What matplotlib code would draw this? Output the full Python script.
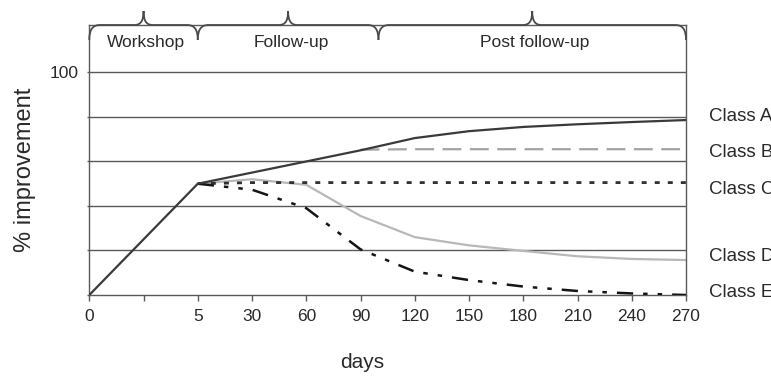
import matplotlib
matplotlib.use("Agg")
import matplotlib.pyplot as plt
import numpy as np
from matplotlib.path import Path
from matplotlib.patches import PathPatch
from matplotlib.transforms import blended_transform_factory

plt.rcParams['font.family'] = ['Liberation Sans', 'DejaVu Sans']

# ---- data ----
day_labels = ["0", "", "5", "30", "60", "90", "120", "150", "180", "210", "240", "270"]
x_pos = list(range(len(day_labels)))

class_a = [0, 25, 50, 55, 60, 65, 70.5, 73.6, 75.5, 76.7, 77.7, 78.6]
class_b_start = 5
class_b = [65.3, 65.5, 65.5, 65.5, 65.5, 65.5, 65.5]
class_c = [50, 50.5, 50.5, 50.5, 50.5, 50.5, 50.5, 50.5, 50.5, 50.5]
class_d = [50, 52, 49.5, 35.5, 26, 22.3, 19.8, 17.4, 16.2, 15.7]
class_e = [50, 47.3, 39, 20.5, 10.5, 6.7, 3.8, 1.8, 0.7, 0.0]

class_names = ["Class A", "Class B", "Class C", "Class D", "Class E"]
class_label_y = [80, 63.8, 47.2, 17.5, 0.9]

y_ticks = [0, 20, 40, 60, 80, 100]
y_ticklabels = ["", "", "", "", "", "100"]

phase_names = ["Workshop", "Follow-up", "Post follow-up"]
phase_bounds = [0, 2, 5.33, 11]

# ---- figure ----
W, H = 771, 378
fig = plt.figure(figsize=(W / 100, H / 100), dpi=100)
ax = fig.add_axes([89.3 / W, 1 - 295 / H, (686 - 89.3) / W, 270 / H])

ax.set_xlim(0, 11)
ax.set_ylim(0, 121.3)

grid_c = "#5a5a5a"
txt_c = "#2a2a2a"
for v in y_ticks[1:]:
    ax.axhline(v, color=grid_c, lw=1.0, zorder=1)

for s in ax.spines.values():
    s.set_color(grid_c)
    s.set_linewidth(1.0)

lw = 1.6
xs2 = x_pos[2:]
ax.plot(xs2, class_d, color="#b8b8b8", lw=lw, zorder=2)
ax.plot(x_pos[class_b_start:], class_b, color="#a3a3a3", lw=lw,
        linestyle=(0, (8.5, 3.8)), zorder=3)
ax.plot(xs2, class_c, color="#303030", lw=2.0,
        linestyle=(0, (1.8, 2.9)), zorder=3)
ax.plot(xs2, class_e, color="#151515", lw=1.8,
        linestyle=(0, (6.5, 4, 1.8, 4, 1.8, 4)), zorder=4)
ax.plot(x_pos, class_a, color="#3a3a3a", lw=lw, zorder=5)

ax.set_xticks(x_pos)
ax.set_xticklabels(day_labels, fontsize=12.5, color=txt_c)
ax.set_yticks(y_ticks)
ax.set_yticklabels(y_ticklabels, fontsize=12.5, color=txt_c)
ax.tick_params(axis="x", direction="out", length=4, width=1.0, color=grid_c, pad=6)
ax.tick_params(axis="y", direction="out", length=1.5, width=1.0, color=grid_c, pad=6)

# class labels to the right
for name, yv in zip(class_names, class_label_y):
    ax.text(11 + 23 / 54.2, yv, name, fontsize=13.5, color=txt_c,
            va="center", ha="left", clip_on=False)

# axis labels
fig.text(362 / W, 1 - 362 / H, "days", fontsize=15, color=txt_c,
         ha="center", va="center")
fig.text(25 / W, 1 - 170 / H, "% improvement", fontsize=17, color=txt_c,
         ha="center", va="center", rotation=90)

# braces
trans = blended_transform_factory(ax.transData, ax.transAxes)
y1 = 1.0
dh = 15 / 270
th = 14 / 270
hw = 0.2
tw = 0.17


def brace(x0, x1):
    xm = (x0 + x1) / 2
    verts = [
        (x0, y1 - dh),
        (x0, y1 - dh * 0.3), (x0 + hw * 0.3, y1), (x0 + hw, y1),
        (xm - tw, y1),
        (xm - tw * 0.3, y1), (xm, y1 + th * 0.3), (xm, y1 + th),
        (xm, y1 + th * 0.3), (xm + tw * 0.3, y1), (xm + tw, y1),
        (x1 - hw, y1),
        (x1 - hw * 0.3, y1), (x1, y1 - dh * 0.3), (x1, y1 - dh),
    ]
    codes = [Path.MOVETO,
             Path.CURVE4, Path.CURVE4, Path.CURVE4,
             Path.LINETO,
             Path.CURVE4, Path.CURVE4, Path.CURVE4,
             Path.CURVE4, Path.CURVE4, Path.CURVE4,
             Path.LINETO,
             Path.CURVE4, Path.CURVE4, Path.CURVE4]
    p = PathPatch(Path(verts, codes), transform=trans, fill=False,
                  edgecolor="#4a4a4a", lw=1.3, clip_on=False, zorder=6)
    ax.add_patch(p)
    return xm


for name, a, b in zip(phase_names, phase_bounds[:-1], phase_bounds[1:]):
    xm = brace(a, b)
    ax.text(xm + 0.05, (295 - 43) / 270, name, transform=trans, fontsize=12.5,
            color=txt_c, ha="center", va="center")

fig.savefig("out.png", dpi=100)
